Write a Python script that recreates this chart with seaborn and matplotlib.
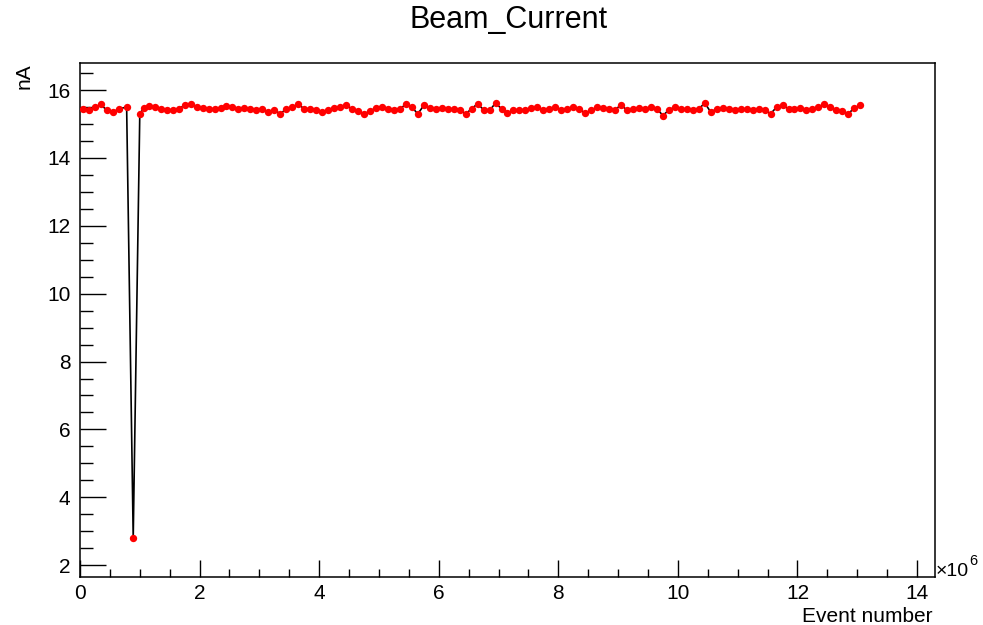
"""
Beam current vs event number, ROOT-style graph redrawn with seaborn.
"""

import matplotlib
matplotlib.use('Agg')
import matplotlib.pyplot as plt
from matplotlib.ticker import MultipleLocator
import pandas as pd
import seaborn as sns


# Event number in units of 1e6
event_number = [
    0.05, 0.15, 0.25, 0.35, 0.45, 0.55, 0.65, 0.78, 0.89, 1.00,
    1.07, 1.15, 1.25, 1.35, 1.45, 1.55, 1.65, 1.75, 1.85, 1.95,
    2.05, 2.15, 2.25, 2.35, 2.45, 2.55, 2.65, 2.75, 2.85, 2.95,
    3.05, 3.15, 3.25, 3.35, 3.45, 3.55, 3.65, 3.75, 3.85, 3.95,
    4.05, 4.15, 4.25, 4.35, 4.45, 4.55, 4.65, 4.75, 4.85, 4.95,
    5.05, 5.15, 5.25, 5.35, 5.45, 5.55, 5.65, 5.75, 5.85, 5.95,
    6.05, 6.15, 6.25, 6.35, 6.45, 6.55, 6.65, 6.75, 6.85, 6.95,
    7.05, 7.15, 7.25, 7.35, 7.45, 7.55, 7.65, 7.75, 7.85, 7.95,
    8.05, 8.15, 8.25, 8.35, 8.45, 8.55, 8.65, 8.75, 8.85, 8.95,
    9.05, 9.15, 9.25, 9.35, 9.45, 9.55, 9.65, 9.75, 9.85, 9.95,
    10.05, 10.15, 10.25, 10.35, 10.45, 10.55, 10.65, 10.75, 10.85, 10.95,
    11.05, 11.15, 11.25, 11.35, 11.45, 11.55, 11.65, 11.75, 11.85, 11.95,
    12.05, 12.15, 12.25, 12.35, 12.45, 12.55, 12.65, 12.75, 12.85, 12.95,
    13.05,
]

# Beam current in nA
beam_current = [
    15.45, 15.42, 15.50, 15.58, 15.40, 15.35, 15.45, 15.50, 2.81, 15.30,
    15.48, 15.52, 15.50, 15.45, 15.42, 15.42, 15.45, 15.55, 15.60, 15.50,
    15.47, 15.45, 15.45, 15.47, 15.53, 15.50, 15.45, 15.47, 15.45, 15.42,
    15.45, 15.35, 15.42, 15.30, 15.45, 15.50, 15.58, 15.45, 15.45, 15.42,
    15.35, 15.42, 15.48, 15.50, 15.55, 15.45, 15.38, 15.30, 15.38, 15.48,
    15.50, 15.45, 15.42, 15.45, 15.58, 15.50, 15.30, 15.55, 15.47, 15.45,
    15.47, 15.45, 15.45, 15.42, 15.30, 15.45, 15.60, 15.42, 15.40, 15.62,
    15.45, 15.32, 15.40, 15.42, 15.42, 15.47, 15.50, 15.42, 15.45, 15.50,
    15.42, 15.45, 15.50, 15.45, 15.32, 15.40, 15.50, 15.47, 15.45, 15.42,
    15.57, 15.40, 15.45, 15.47, 15.45, 15.50, 15.45, 15.25, 15.42, 15.50,
    15.45, 15.45, 15.42, 15.45, 15.62, 15.35, 15.45, 15.47, 15.45, 15.42,
    15.45, 15.45, 15.42, 15.45, 15.42, 15.30, 15.50, 15.55, 15.45, 15.45,
    15.47, 15.42, 15.45, 15.50, 15.58, 15.50, 15.42, 15.38, 15.30, 15.48,
    15.55,
]

sns.set_theme(style='white')
plt.rcParams['font.family'] = ['Liberation Sans', 'DejaVu Sans']
plt.rcParams['text.color'] = 'black'
plt.rcParams['xtick.color'] = 'black'
plt.rcParams['ytick.color'] = 'black'

df = pd.DataFrame({'event': event_number, 'current': beam_current})

fig = plt.figure(figsize=(9.83, 6.25), dpi=100)
ax = fig.add_axes([80 / 983, 1 - 577 / 625, 855 / 983, 514 / 625])

# Black connecting line, red markers on top
sns.lineplot(data=df, x='event', y='current', sort=False, color='black',
             linewidth=1.2, ax=ax, zorder=2)
sns.scatterplot(data=df, x='event', y='current', color='red', s=28,
                linewidth=0, ax=ax, zorder=3)

ax.set_xlim(0, 14.3)
ax.set_ylim(1.65, 16.8)
ax.set_xlabel('')
ax.set_ylabel('')

ax.xaxis.set_major_locator(MultipleLocator(2))
ax.xaxis.set_minor_locator(MultipleLocator(0.5))
ax.yaxis.set_major_locator(MultipleLocator(2))
ax.yaxis.set_minor_locator(MultipleLocator(0.5))

ax.tick_params(axis='x', which='major', direction='in', length=12, width=1,
               labelsize=15, pad=5, bottom=True, top=False)
ax.tick_params(axis='x', which='minor', direction='in', length=6, width=1,
               bottom=True, top=False)
ax.tick_params(axis='y', which='major', direction='in', length=18.5, width=1,
               labelsize=15, pad=7, left=True, right=False)
ax.tick_params(axis='y', which='minor', direction='in', length=9.5, width=1,
               left=True, right=False)

for spine in ax.spines.values():
    spine.set_color('black')
    spine.set_linewidth(1.1)

fig.text(0.517, 1 - 20 / 625, 'Beam_Current', ha='center', va='center',
         fontsize=22)
fig.text(933 / 983, 3 / 625, 'Event number', ha='right', va='baseline',
         fontsize=15)
fig.text(24 / 983, 1 - 63 / 625, 'nA', ha='center', va='top', rotation=90,
         fontsize=15)
fig.text(936 / 983, 1 - 576 / 625, '\u00d710', ha='left', va='baseline',
         fontsize=14)
fig.text(969 / 983, 1 - 565 / 625, '6', ha='left', va='baseline',
         fontsize=10.5)

fig.savefig('out.png', dpi=100, facecolor='white')
